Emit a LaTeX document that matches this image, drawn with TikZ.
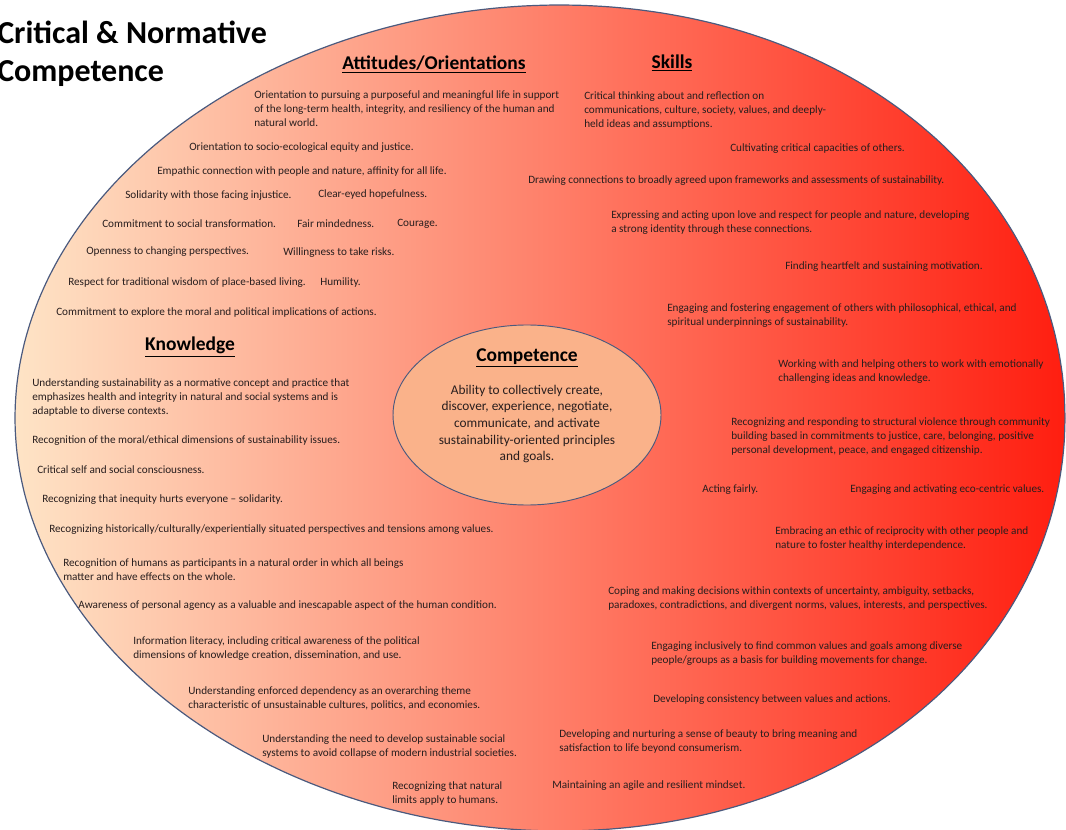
\documentclass[tikz,border=0pt]{standalone}
\usepackage{fontspec}
\setmainfont{Carlito}
\usepackage{tikz}
\usepackage{xcolor}
\usetikzlibrary{shapes.geometric}

\definecolor{peach}{RGB}{254,228,198}
\definecolor{salmon}{RGB}{249,160,140}
\definecolor{hotred}{RGB}{255,30,16}
\definecolor{rimblue}{RGB}{75,90,126}
\definecolor{corefill}{RGB}{250,178,138}
\definecolor{inktext}{RGB}{40,30,30}

\begin{document}
\begin{tikzpicture}[x=0.75pt,y=-0.75pt,
  item/.style={anchor=west,align=left,inner sep=0pt,text=inktext,
    font=\fontsize{8.4}{10.5}\selectfont},
  head/.style={inner sep=0pt,text=black,font=\fontsize{14.6}{16}\selectfont\bfseries},
  corebody/.style={inner sep=0pt,align=center,text=inktext,
    font=\fontsize{10}{12.4}\selectfont}]
\useasboundingbox (0,0) rectangle (1066,830);

% big coloured oval
\shadedraw[left color=peach,middle color=salmon,right color=hotred,draw=rimblue,line width=0.9pt]
  plot[domain=0:360,samples=120,smooth] ({540+20*(sin(\x))^2+525*cos(\x)},{418+413*sin(\x)}) -- cycle;

% title
\node[anchor=west,align=left,inner sep=0pt,font=\fontsize{24}{28.5}\selectfont\bfseries] (title) at (-3,54)
  {Critical \& Normative\\Competence};

% centre
\node[ellipse,draw=rimblue,line width=0.7pt,fill=corefill,minimum width=201pt,minimum height=135pt] (core) at (527,415) {};
\node[head] (coreHead) at (527,358) {\underline{Competence}};
\node[corebody] (coreText) at (527,424) {Ability to collectively create,\\discover, experience, negotiate,\\communicate, and activate\\sustainability-oriented principles\\and goals.};

% headings
\node[head] (attHead) at (434,64) {\underline{Attitudes/Orientations}};
\node[head] (skHead) at (672,63) {\underline{Skills}};
\node[head] (knHead) at (190,347) {\underline{Knowledge}};

% attitudes / orientations
\node[item] (att1) at (254,109) {Orientation to pursuing a purposeful and meaningful life in support\\of the long-term health, integrity, and resiliency of the human and\\natural world.};
\node[item] (att2) at (189,148) {Orientation to socio-ecological equity and justice.};
\node[item] (att3) at (157,172) {Empathic connection with people and nature, affinity for all life.};
\node[item] (att4) at (125,196) {Solidarity with those facing injustice.};
\node[item] (att5) at (318,195) {Clear-eyed hopefulness.};
\node[item] (att6) at (102,224) {Commitment to social transformation.};
\node[item] (att7) at (297,224) {Fair mindedness.};
\node[item] (att8) at (397,224) {Courage.};
\node[item] (att9) at (86,252) {Openness to changing perspectives.};
\node[item] (att10) at (283,253) {Willingness to take risks.};
\node[item] (att11) at (68,283) {Respect for traditional wisdom of place-based living.};
\node[item] (att12) at (320,283) {Humility.};
\node[item] (att13) at (56,313) {Commitment to explore the moral and political implications of actions.};

% skills
\node[item] (sk1) at (584,111) {Critical thinking about and reflection on\\communications, culture, society, values, and deeply-\\held ideas and assumptions.};
\node[item] (sk2) at (730,149) {Cultivating critical capacities of others.};
\node[item] (sk3) at (528,181) {Drawing connections to broadly agreed upon frameworks and assessments of sustainability.};
\node[item] (sk4) at (611,223) {Expressing and acting upon love and respect for people and nature, developing\\a strong identity through these connections.};
\node[item] (sk5) at (785,267) {Finding heartfelt and sustaining motivation.};
\node[item] (sk6) at (667,316) {Engaging and fostering engagement of others with philosophical, ethical, and\\spiritual underpinnings of sustainability.};
\node[item] (sk7) at (778,372) {Working with and helping others to work with emotionally\\challenging ideas and knowledge.};
\node[item] (sk8) at (731,437) {Recognizing and responding to structural violence through community\\building based in commitments to justice, care, belonging, positive\\personal development, peace, and engaged citizenship.};
\node[item] (sk9) at (702,490) {Acting fairly.};
\node[item] (sk10) at (850,490) {Engaging and activating eco-centric values.};
\node[item] (sk11) at (775,539) {Embracing an ethic of reciprocity with other people and\\nature to foster healthy interdependence.};
\node[item] (sk12) at (608,599) {Coping and making decisions within contexts of uncertainty, ambiguity, setbacks,\\paradoxes, contradictions, and divergent norms, values, interests, and perspectives.};
\node[item] (sk13) at (651,654) {Engaging inclusively to find common values and goals among diverse\\people/groups as a basis for building movements for change.};
\node[item] (sk14) at (653,700) {Developing consistency between values and actions.};
\node[item] (sk15) at (559,742) {Developing and nurturing a sense of beauty to bring meaning and\\satisfaction to life beyond consumerism.};
\node[item] (sk16) at (552,786) {Maintaining an agile and resilient mindset.};

% knowledge
\node[item] (kn1) at (32,398) {Understanding sustainability as a normative concept and practice that\\emphasizes health and integrity in natural and social systems and is\\adaptable to diverse contexts.};
\node[item] (kn2) at (32,441) {Recognition of the moral/ethical dimensions of sustainability issues.};
\node[item] (kn3) at (37,470) {Critical self and social consciousness.};
\node[item] (kn4) at (42,500) {Recognizing that inequity hurts everyone -- solidarity.};
\node[item] (kn5) at (49,530) {Recognizing historically/culturally/experientially situated perspectives and tensions among values.};
\node[item] (kn6) at (63,570) {Recognition of humans as participants in a natural order in which all beings\\matter and have effects on the whole.};
\node[item] (kn7) at (78,606) {Awareness of personal agency as a valuable and inescapable aspect of the human condition.};
\node[item] (kn8) at (133,649) {Information literacy, including critical awareness of the political\\dimensions of knowledge creation, dissemination, and use.};
\node[item] (kn9) at (188,699) {Understanding enforced dependency as an overarching theme\\characteristic of unsustainable cultures, politics, and economies.};
\node[item] (kn10) at (262,747) {Understanding the need to develop sustainable social\\systems to avoid collapse of modern industrial societies.};
\node[item] (kn11) at (392,794) {Recognizing that natural\\limits apply to humans.};
\end{tikzpicture}
\end{document}
